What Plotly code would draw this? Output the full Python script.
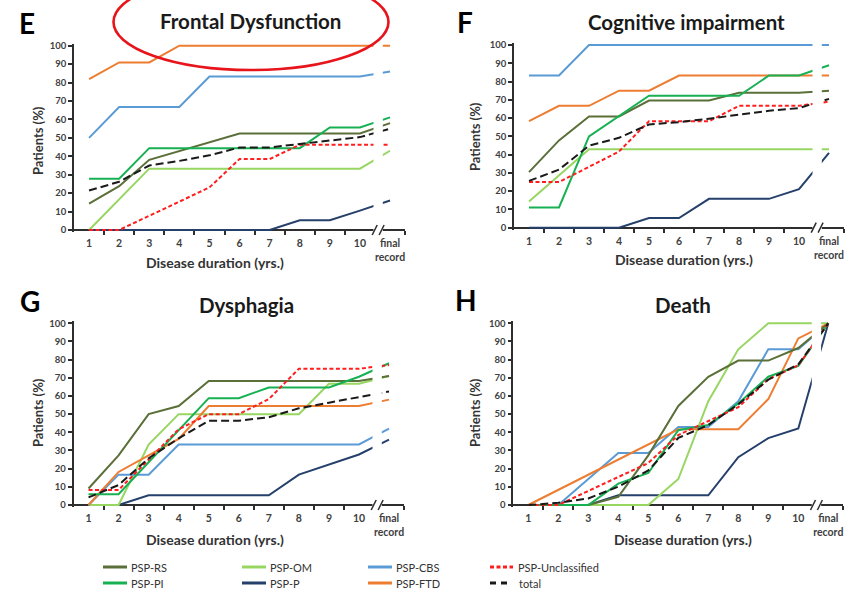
import plotly.graph_objects as go

W, H = 853, 596

# ---------------- data ----------------
X_POS = list(range(1, 12))
X_LABELS = [str(d) for d in range(1, 11)] + ["final<br>record"]

GROUPS = ["PSP-RS", "PSP-OM", "PSP-CBS", "PSP-Unclassified",
          "PSP-PI", "PSP-P", "PSP-FTD", "total"]

# E - Frontal dysfunction (% of patients, years 1..10 and final record)
frontal_rs = [14.3, 23.8, 38.1, 42.9, 47.6, 52.4, 52.4, 52.4, 52.4, 52.4, 58.0]
frontal_om = [0.0, 16.7, 33.3, 33.3, 33.3, 33.3, 33.3, 33.3, 33.3, 33.3, 43.0]
frontal_cbs = [50.0, 66.7, 66.7, 66.7, 83.3, 83.3, 83.3, 83.3, 83.3, 83.3, 86.0]
frontal_unc = [0.0, 0.0, 7.7, 15.4, 23.1, 38.5, 38.5, 46.2, 46.2, 46.2, 46.2]
frontal_pi = [27.8, 27.8, 44.4, 44.4, 44.4, 44.4, 44.4, 44.4, 55.6, 55.6, 61.1]
frontal_p = [0.0, 0.0, 0.0, 0.0, 0.0, 0.0, 0.0, 5.3, 5.3, 10.5, 16.0]
frontal_ftd = [81.8, 90.9, 90.9, 100.0, 100.0, 100.0, 100.0, 100.0, 100.0, 100.0, 100.0]
frontal_total = [21.4, 26.2, 35.0, 37.5, 40.5, 44.8, 44.8, 46.8, 48.8, 50.4, 55.0]

# F - Cognitive impairment
cog_rs = [30.4, 47.8, 60.9, 60.9, 69.6, 69.6, 69.6, 73.9, 73.9, 73.9, 75.0]
cog_om = [14.3, 28.6, 42.9, 42.9, 42.9, 42.9, 42.9, 42.9, 42.9, 42.9, 42.9]
cog_cbs = [83.3, 83.3, 100.0, 100.0, 100.0, 100.0, 100.0, 100.0, 100.0, 100.0, 100.0]
cog_unc = [25.0, 25.0, 33.3, 41.7, 58.3, 58.3, 58.3, 66.7, 66.7, 66.7, 69.0]
cog_pi = [11.1, 11.1, 50.0, 61.1, 72.2, 72.2, 72.2, 72.2, 83.3, 83.3, 88.9]
cog_p = [0.0, 0.0, 0.0, 0.0, 5.3, 5.3, 15.8, 15.8, 15.8, 21.1, 41.0]
cog_ftd = [58.3, 66.7, 66.7, 75.0, 75.0, 83.3, 83.3, 83.3, 83.3, 83.3, 83.3]
cog_total = [25.6, 31.8, 44.9, 49.2, 56.5, 57.8, 59.7, 62.0, 64.0, 65.5, 70.5]

# G - Dysphagia
dys_rs = [9.1, 27.3, 50.0, 54.5, 68.2, 68.2, 68.2, 68.2, 68.2, 68.2, 71.0]
dys_om = [0.0, 0.0, 33.3, 50.0, 50.0, 50.0, 50.0, 50.0, 66.7, 66.7, 71.0]
dys_cbs = [0.0, 16.7, 16.7, 33.3, 33.3, 33.3, 33.3, 33.3, 33.3, 33.3, 42.0]
dys_unc = [8.3, 8.3, 25.0, 41.7, 50.0, 50.0, 58.3, 75.0, 75.0, 75.0, 77.0]
dys_pi = [5.9, 5.9, 23.5, 41.2, 58.8, 58.8, 64.7, 64.7, 64.7, 70.6, 78.0]
dys_p = [0.0, 0.0, 5.3, 5.3, 5.3, 5.3, 5.3, 16.7, 22.2, 27.8, 36.0]
dys_ftd = [0.0, 18.2, 27.3, 36.4, 54.5, 54.5, 54.5, 54.5, 54.5, 54.5, 58.0]
dys_total = [4.2, 11.0, 25.7, 36.7, 46.4, 46.4, 48.3, 53.2, 56.3, 59.6, 62.5]

# H - Death
death_rs = [0.0, 0.0, 0.0, 4.5, 27.3, 54.5, 70.5, 79.5, 79.5, 86.4, 100.0]
death_om = [0.0, 0.0, 0.0, 0.0, 0.0, 14.3, 57.1, 85.7, 100.0, 100.0, 100.0]
death_cbs = [0.0, 0.0, 14.3, 28.6, 28.6, 42.9, 42.9, 57.1, 85.7, 85.7, 100.0]
death_unc = [0.0, 0.0, 7.7, 15.4, 23.1, 38.5, 46.2, 53.8, 69.2, 76.9, 100.0]
death_pi = [0.0, 0.0, 0.0, 11.8, 17.6, 41.2, 44.1, 55.9, 70.6, 76.5, 100.0]
death_p = [0.0, 0.0, 0.0, 5.3, 5.3, 5.3, 5.3, 26.3, 36.8, 42.1, 100.0]
death_ftd = [0.0, 8.3, 16.7, 25.0, 33.3, 41.7, 41.7, 41.7, 58.3, 91.7, 100.0]
death_total = [0.0, 1.2, 3.6, 10.1, 19.0, 36.9, 44.0, 55.4, 69.0, 77.4, 100.0]

PANEL_LETTERS = ["E", "F", "G", "H"]
PANEL_TITLES = ["Frontal Dysfunction", "Cognitive impairment", "Dysphagia", "Death"]
PANEL_SERIES = [
    dict(zip(GROUPS, [frontal_rs, frontal_om, frontal_cbs, frontal_unc,
                      frontal_pi, frontal_p, frontal_ftd, frontal_total])),
    dict(zip(GROUPS, [cog_rs, cog_om, cog_cbs, cog_unc,
                      cog_pi, cog_p, cog_ftd, cog_total])),
    dict(zip(GROUPS, [dys_rs, dys_om, dys_cbs, dys_unc,
                      dys_pi, dys_p, dys_ftd, dys_total])),
    dict(zip(GROUPS, [death_rs, death_om, death_cbs, death_unc,
                      death_pi, death_p, death_ftd, death_total])),
]

# ---------------- styling ----------------
STYLE = {
    "PSP-RS": dict(color="#5B6F38", dash="solid"),
    "PSP-OM": dict(color="#98D662", dash="solid"),
    "PSP-CBS": dict(color="#5B9BD5", dash="solid"),
    "PSP-Unclassified": dict(color="#FF1E1E", dash="4px,2.5px"),
    "PSP-PI": dict(color="#17B153", dash="solid"),
    "PSP-P": dict(color="#25406B", dash="solid"),
    "PSP-FTD": dict(color="#ED7D31", dash="solid"),
    "total": dict(color="#1A1A1A", dash="8px,4px"),
}
DRAW_ORDER = ["PSP-P", "PSP-OM", "PSP-CBS", "PSP-FTD", "PSP-RS",
              "PSP-PI", "PSP-Unclassified", "total"]

FONT = "Lato"
AXIS_COLOR = "#2E2E2E"
TEXT_GRAY = "#404040"

# pixel geometry of each subplot: x=0.5 edge, px per year, y of 0 % and 100 %
GEOM = [
    dict(x05=74.0, unit=30.1, y0=230.0, y100=45.7),
    dict(x05=514.0, unit=30.0, y0=227.7, y100=45.0),
    dict(x05=73.5, unit=30.05, y0=505.0, y100=323.3),
    dict(x05=513.3, unit=30.0, y0=505.0, y100=323.3),
]
# text anchors (px) for letter, title, x title, y title
LABEL_POS = [
    dict(letter=(27, 23), title=(250, 21), xt=(215, 262), yt=(38, 141)),
    dict(letter=(465, 22), title=(686, 22), xt=(684, 259), yt=(475, 137)),
    dict(letter=(30, 301), title=(247, 305), xt=(215, 539), yt=(38, 413)),
    dict(letter=(466, 300), title=(683, 305), xt=(683, 539), yt=(475, 413)),
]
YPAD = 1.0


def xp(v):
    return v / W


def yp(v):
    return 1 - v / H


fig = go.Figure()
shapes = []
annotations = []
layout_axes = {}

for i, series in enumerate(PANEL_SERIES):
    n = i + 1
    g = GEOM[i]
    xname = "x" if n == 1 else f"x{n}"
    yname = "y" if n == 1 else f"y{n}"
    xkey = "xaxis" if n == 1 else f"xaxis{n}"
    ykey = "yaxis" if n == 1 else f"yaxis{n}"

    for grp in DRAW_ORDER:
        st = STYLE[grp]
        fig.add_trace(go.Scatter(
            x=X_POS, y=series[grp], mode="lines", name=grp,
            line=dict(color=st["color"], width=2, dash=st["dash"]),
            xaxis=xname, yaxis=yname, showlegend=False, hoverinfo="skip",
        ))

    x_left = g["x05"]
    x_right = g["x05"] + 11 * g["unit"]
    scale = (g["y0"] - g["y100"]) / 100.0
    y_bot = g["y0"] + YPAD * scale
    y_top = g["y100"] - YPAD * scale

    layout_axes[xkey] = dict(
        domain=[xp(x_left), xp(x_right)], range=[0.5, 11.5],
        anchor="free", position=yp(g["y0"]),
        tickmode="array", tickvals=X_POS, ticktext=X_LABELS,
        ticks="outside", ticklen=4, tickcolor="rgba(0,0,0,0)",
        minor=dict(tickmode="array",
                   tickvals=[k + 0.5 for k in range(1, 10)] + [11.5],
                   ticks="outside", ticklen=4, tickwidth=1.5,
                   tickcolor=AXIS_COLOR, showgrid=False),
        showline=True, linecolor=AXIS_COLOR, linewidth=1.6,
        showgrid=False, zeroline=False, layer="below traces",
        tickfont=dict(family=FONT, size=10.5, color=TEXT_GRAY, weight="bold"),
        automargin=False, fixedrange=True,
    )
    layout_axes[ykey] = dict(
        domain=[yp(y_bot), yp(y_top)], range=[-YPAD, 100 + YPAD],
        anchor=xname, tickmode="array", tickvals=list(range(0, 101, 10)),
        ticks="outside", ticklen=4, tickwidth=1.5, tickcolor=AXIS_COLOR,
        showline=True, linecolor=AXIS_COLOR, linewidth=1.6,
        showgrid=False, zeroline=False, layer="below traces",
        tickfont=dict(family=FONT, size=9.5, color=TEXT_GRAY, weight="bold"),
        automargin=False, fixedrange=True,
    )

    # axis break between year 10 and the final record
    def cx(v, g=g):
        return xp(g["x05"] + (v - 0.5) * g["unit"])

    shapes.append(dict(type="rect", xref="paper", yref="paper",
                       x0=cx(10.45), x1=cx(10.76),
                       y0=yp(g["y0"] + 1.2), y1=yp(g["y100"] - 8),
                       fillcolor="white", line=dict(width=0), layer="above"))
    for bx in (10.49, 10.72):
        shapes.append(dict(type="line", xref="paper", yref="paper",
                           x0=cx(bx) - 2.5 / W, x1=cx(bx) + 2.5 / W,
                           y0=yp(g["y0"] + 5), y1=yp(g["y0"] - 5),
                           line=dict(color=AXIS_COLOR, width=1.5), layer="above"))

    lp = LABEL_POS[i]
    annotations.append(dict(text=PANEL_LETTERS[i], x=xp(lp["letter"][0]), y=yp(lp["letter"][1]),
                            xref="paper", yref="paper", showarrow=False,
                            xanchor="center", yanchor="middle",
                            font=dict(family=FONT, size=28, color="#000000", weight="bold")))
    annotations.append(dict(text=PANEL_TITLES[i], x=xp(lp["title"][0]), y=yp(lp["title"][1]),
                            xref="paper", yref="paper", showarrow=False,
                            xanchor="center", yanchor="middle",
                            font=dict(family=FONT, size=20.5, color="#1A1A1A", weight="bold")))
    annotations.append(dict(text="Disease duration (yrs.)", x=xp(lp["xt"][0]), y=yp(lp["xt"][1]),
                            xref="paper", yref="paper", showarrow=False,
                            xanchor="center", yanchor="middle",
                            font=dict(family=FONT, size=14, color="#333333", weight="bold")))
    annotations.append(dict(text="Patients (%)", x=xp(lp["yt"][0]), y=yp(lp["yt"][1]),
                            xref="paper", yref="paper", showarrow=False, textangle=-90,
                            xanchor="center", yanchor="middle",
                            font=dict(family=FONT, size=13, color="#333333", weight="bold")))

# highlight ring around the first panel title
shapes.append(dict(type="circle", xref="paper", yref="paper",
                   x0=xp(113.5), x1=xp(388.5), y0=yp(70), y1=yp(-26),
                   line=dict(color="#E8141B", width=2.6), fillcolor="rgba(0,0,0,0)",
                   layer="above"))

# legend (4 columns x 2 rows)
LEGEND_COLS = [103, 242, 368, 490]
LEGEND_ROWS = [567, 583]
LEGEND_LAYOUT = [("PSP-RS", 0, 0), ("PSP-OM", 1, 0), ("PSP-CBS", 2, 0),
                 ("PSP-Unclassified", 3, 0), ("PSP-PI", 0, 1), ("PSP-P", 1, 1),
                 ("PSP-FTD", 2, 1), ("total", 3, 1)]
for grp, c, r in LEGEND_LAYOUT:
    st = STYLE[grp]
    x0 = LEGEND_COLS[c]
    y = LEGEND_ROWS[r]
    if grp == "total":
        seg_len, dash = 17, "6px,5px"
    elif grp == "PSP-Unclassified":
        seg_len, dash = 23, "4px,2.5px"
    else:
        seg_len, dash = 24, "solid"
    shapes.append(dict(type="line", xref="paper", yref="paper",
                       x0=xp(x0), x1=xp(x0 + seg_len), y0=yp(y), y1=yp(y),
                       line=dict(color=st["color"], width=3, dash=dash)))
    tx = x0 + (27 if grp == "total" else 26)
    annotations.append(dict(text=grp, x=xp(tx), y=yp(y), xref="paper", yref="paper",
                            showarrow=False, xanchor="left", yanchor="middle",
                            font=dict(family=FONT, size=11, color="#333333")))

fig.update_layout(
    width=W, height=H, autosize=False,
    margin=dict(l=0, r=0, t=0, b=0),
    paper_bgcolor="white", plot_bgcolor="white",
    showlegend=False, shapes=shapes, annotations=annotations,
    **layout_axes,
)

fig.write_html("out.html")
